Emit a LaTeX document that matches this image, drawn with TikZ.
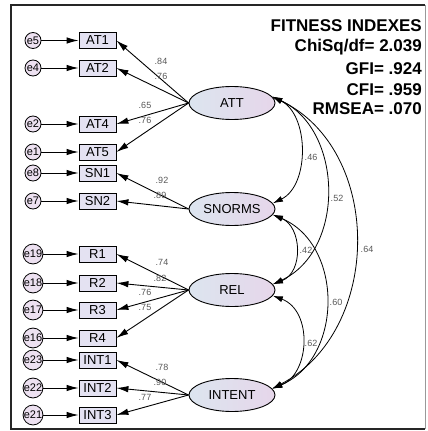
\documentclass[tikz,border=0pt]{standalone}
\usepackage{fontspec}
\setmainfont{Liberation Sans}
\usetikzlibrary{arrows.meta,shapes.geometric}
\definecolor{errfill}{HTML}{EDE1F1}
\definecolor{boxfill}{HTML}{E4E2F2}
\definecolor{latL}{HTML}{DCE5EF}
\definecolor{latR}{HTML}{E6D6EA}
\begin{document}
\begin{tikzpicture}[x=1pt,y=-1pt,
  err/.style={circle,draw,line width=0.8pt,fill=errfill,minimum size=16pt,inner sep=0pt,font=\fontsize{11}{11}\selectfont},
  obs/.style={rectangle,draw,line width=0.8pt,fill=boxfill,minimum width=37pt,minimum height=16pt,inner sep=0pt,font=\fontsize{13}{13}\selectfont},
  lat/.style={ellipse,draw,line width=0.9pt,left color=latL,right color=latR,minimum width=86pt,minimum height=33pt,inner sep=0pt,font=\fontsize{13}{13}\selectfont},
  arr/.style={-{Latex[length=12pt,width=6.5pt]},line width=0.9pt},
  cov/.style={{Latex[length=10pt,width=6pt]}-{Latex[length=10pt,width=6pt]},line width=0.8pt},
  lab/.style={font=\fontsize{9}{9}\selectfont,text=black!65,inner sep=0pt},
  fit/.style={font=\bfseries\fontsize{17}{17}\selectfont,anchor=east,inner sep=0pt}]
\useasboundingbox (0,0) rectangle (428,431);
\fill[white] (0,0) rectangle (428,431);
% frame
\draw[line width=1.6pt,black!85] (425,5) -- (11,5) -- (11,429) -- (425,429);
\draw[line width=0.8pt,black!40] (425,5) -- (425,429);

% fit indexes
\node[fit] (f1) at (422,26) {FITNESS INDEXES};
\node[fit] (f2) at (422,47.5) {ChiSq/df= 2.039};
\node[fit] (f3) at (422,69) {GFI= .924};
\node[fit] (f4) at (422,90) {CFI= .959};
\node[fit] (f5) at (422,108.5) {RMSEA= .070};

% latent variables
\node[lat] (ATT) at (232,103) {ATT};
\node[lat] (SNORMS) at (232,209) {SNORMS};
\node[lat] (REL) at (232,290) {REL};
\node[lat] (INTENT) at (232,395) {INTENT};

% observed + errors
\foreach \nm/\e/\y in {AT1/e5/40.5, AT2/e4/68, AT4/e2/124, AT5/e1/152, SN1/e8/173, SN2/e7/201,
    R1/e19/254, R2/e18/283, R3/e17/310, R4/e16/338, INT1/e23/360, INT2/e22/388, INT3/e21/415}{
  \node[obs] (\nm) at (97.5,\y) {\nm};
  \node[err] (\e) at (33,\y) {\e};
  \draw[arr] (\e) -- (\nm);
}

% loadings
\foreach \lv/\ob in {ATT/AT1, ATT/AT2, ATT/AT4, ATT/AT5, SNORMS/SN1, SNORMS/SN2,
    REL/R1, REL/R2, REL/R3, REL/R4, INTENT/INT1, INTENT/INT2, INTENT/INT3}{
  \draw[arr] (\lv.west) -- (\ob.east);
}

% loading labels
\node[lab] (l1) at (161,61) {.84};
\node[lab] (l2) at (161,76) {.76};
\node[lab] (l3) at (145,105) {.65};
\node[lab] (l4) at (145,120) {.76};
\node[lab] (l5) at (162,180) {.92};
\node[lab] (l6) at (160,195) {.89};
\node[lab] (l7) at (162,262) {.74};
\node[lab] (l8) at (160,278) {.82};
\node[lab] (l9) at (145,292) {.76};
\node[lab] (l10) at (145,307) {.75};
\node[lab] (l11) at (162,367) {.78};
\node[lab] (l12) at (160,382) {.90};
\node[lab] (l13) at (145,397) {.77};

% covariances
\draw[cov] (ATT.9) .. controls +(37,18) and +(37,-18) .. (SNORMS.8);
\draw[cov] (ATT.9) .. controls +(71,33) and +(73,-34) .. (REL.8);
\draw[cov] (ATT.9) .. controls +(111,53) and +(111,-58) .. (INTENT.9);
\draw[cov] (SNORMS.-8) .. controls +(29,12) and +(31,-12) .. (REL.8);
\draw[cov] (SNORMS.-8) .. controls +(71,30) and +(71,-30) .. (INTENT.9);
\draw[cov] (REL.-8) .. controls +(40,15) and +(38,-15) .. (INTENT.9);

\node[lab] (c1) at (311,157) {.46};
\node[lab] (c2) at (337,198) {.52};
\node[lab] (c3) at (306,250) {.42};
\node[lab] (c4) at (367,249) {.64};
\node[lab] (c5) at (336,302) {.60};
\node[lab] (c6) at (311,343) {.62};
\end{tikzpicture}
\end{document}
